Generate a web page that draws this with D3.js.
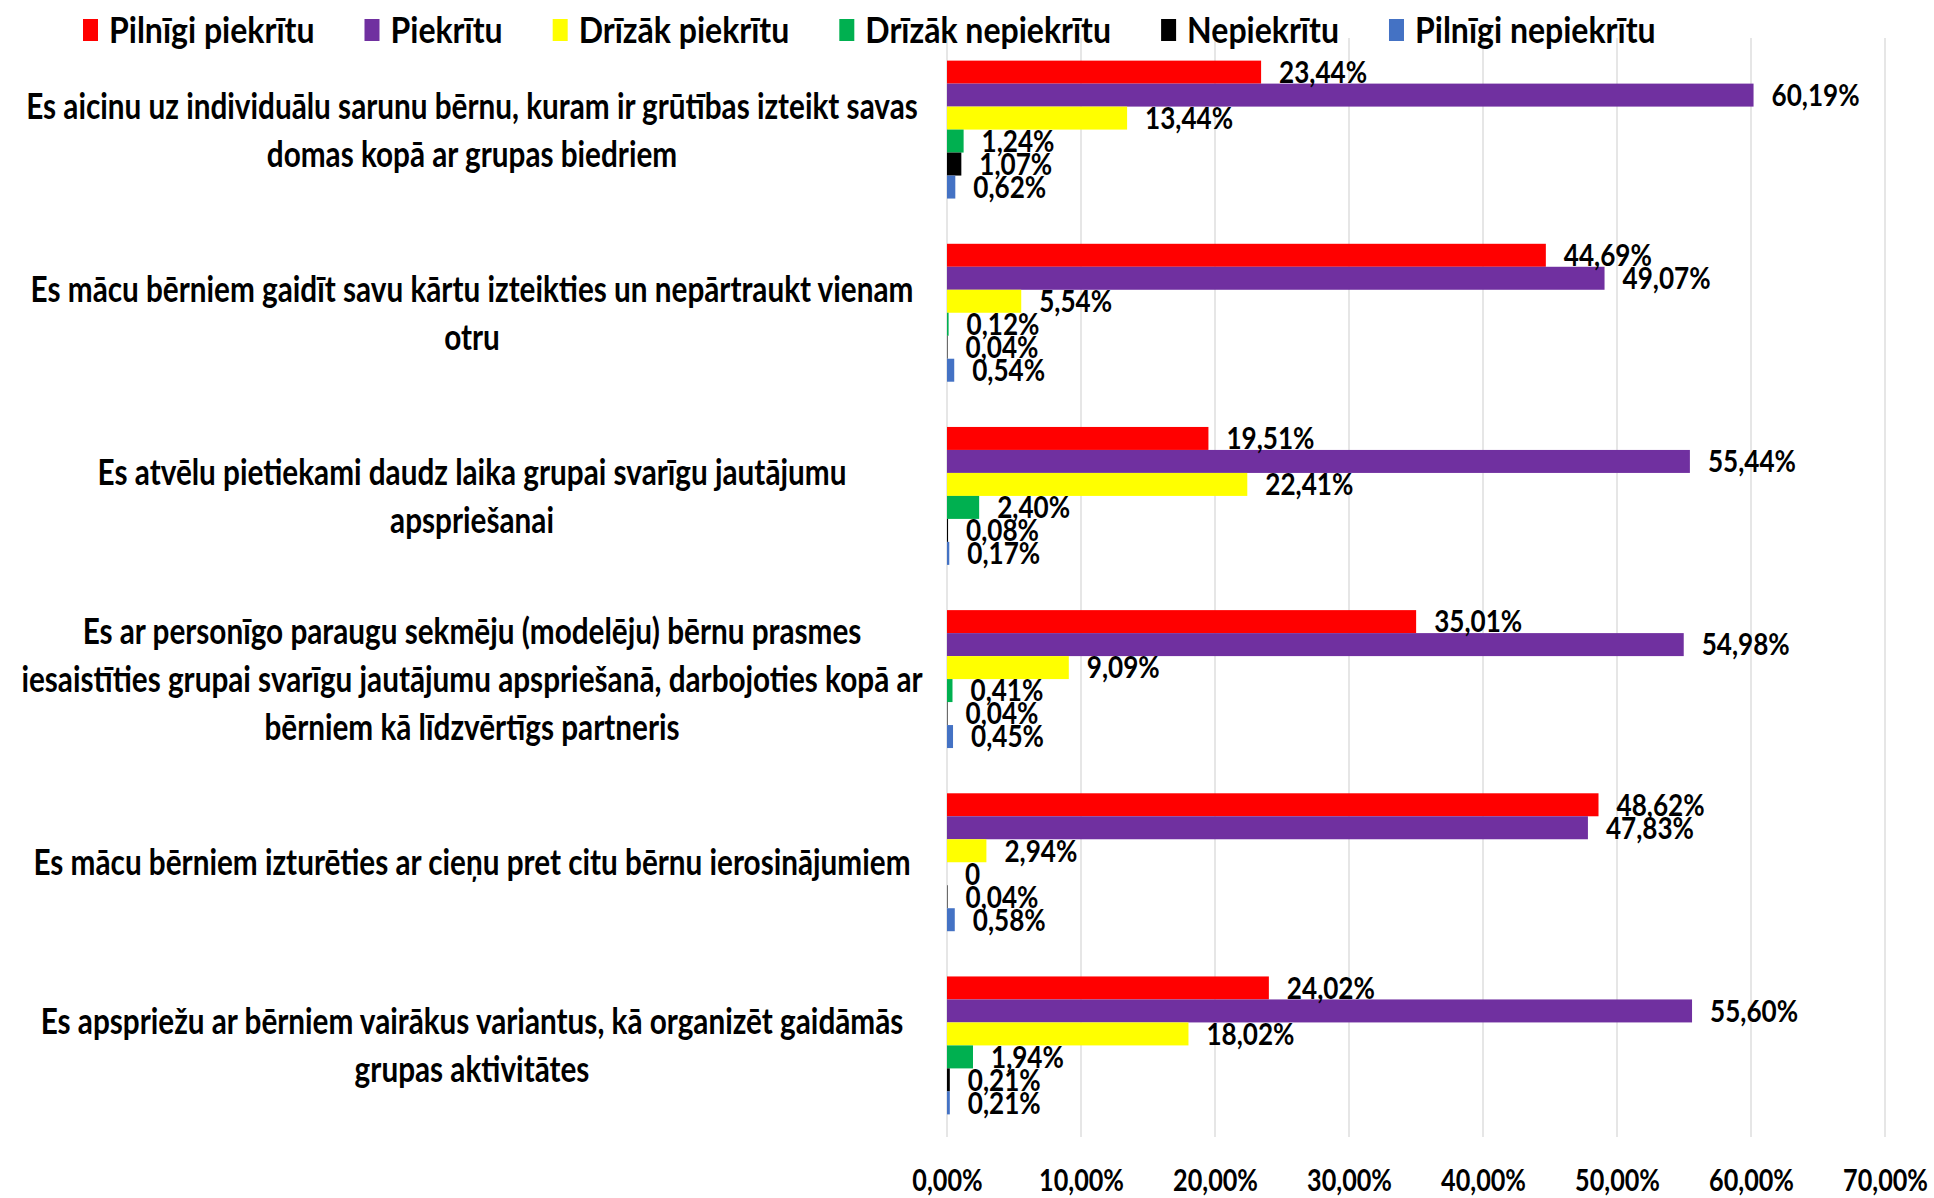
<!DOCTYPE html>
<html lang="lv">
<head>
<meta charset="UTF-8">
<script src="https://cdn.jsdelivr.net/npm/d3@7"></script>
<style>
  body { margin: 0; background: #fff; }
  text { font-family: Lato, "Liberation Sans", sans-serif; font-weight: bold; fill: #000; }
</style>
<title>Chart</title>
</head>
<body>
<div id="chart"></div>
<script>
// categories (line breaks as in the original)
const categories = [
  ["Es aicinu uz individuālu sarunu bērnu, kuram ir grūtības izteikt savas", "domas kopā ar grupas biedriem"],
  ["Es mācu bērniem gaidīt savu kārtu izteikties un nepārtraukt vienam", "otru"],
  ["Es atvēlu pietiekami daudz laika grupai svarīgu jautājumu", "apspriešanai"],
  ["Es ar personīgo paraugu sekmēju (modelēju) bērnu prasmes", "iesaistīties grupai svarīgu jautājumu apspriešanā, darbojoties kopā ar", "bērniem kā līdzvērtīgs partneris"],
  ["Es mācu bērniem izturēties ar cieņu pret citu bērnu ierosinājumiem"],
  ["Es apspriežu ar bērniem vairākus variantus, kā organizēt gaidāmās", "grupas aktivitātes"]
];
const seriesNames = ["Pilnīgi piekrītu", "Piekrītu", "Drīzāk piekrītu", "Drīzāk nepiekrītu", "Nepiekrītu", "Pilnīgi nepiekrītu"];
const seriesColors = ["#FF0000", "#7030A0", "#FFFF00", "#00B050", "#000000", "#4472C4"];
// values in %
const pilnigiPiekritu   = [23.44, 44.69, 19.51, 35.01, 48.62, 24.02];
const piekritu          = [60.19, 49.07, 55.44, 54.98, 47.83, 55.60];
const drizakPiekritu    = [13.44, 5.54, 22.41, 9.09, 2.94, 18.02];
const drizakNepiekritu  = [1.24, 0.12, 2.40, 0.41, 0, 1.94];
const nepiekritu        = [1.07, 0.04, 0.08, 0.04, 0.04, 0.21];
const pilnigiNepiekritu = [0.62, 0.54, 0.17, 0.45, 0.58, 0.21];
const xTicks = [0, 10, 20, 30, 40, 50, 60, 70];

const seriesValues = [pilnigiPiekritu, piekritu, drizakPiekritu, drizakNepiekritu, nepiekritu, pilnigiNepiekritu];

const width = 1934, height = 1198;
const plotLeft = 947, plotRight = 1885, plotTop = 38, plotBottom = 1137;
// horizontal squeeze of the text, per text kind
const sxLabel = 0.87, sxCat = 0.825, sxAxis = 0.84, sxLegend = 0.89;

const pct = v => d3.format(".2f")(v).replace(".", ",") + "%";
const fmt = v => v === 0 ? "0" : pct(v);

const svg = d3.select("#chart").append("svg")
  .attr("width", width).attr("height", height);

const x = d3.scaleLinear().domain([0, 70]).range([plotLeft, plotRight]);
const y0 = d3.scaleBand().domain(d3.range(categories.length))
  .range([plotTop, plotBottom]).paddingInner(0.247).paddingOuter(0.1235);
const y1 = d3.scaleBand().domain(d3.range(seriesNames.length)).range([0, y0.bandwidth()]);

// gridlines
svg.append("g").selectAll("line").data(xTicks).enter().append("line")
  .attr("x1", d => x(d)).attr("x2", d => x(d))
  .attr("y1", plotTop).attr("y2", plotBottom)
  .attr("stroke", "#D9D9D9").attr("stroke-width", 1.3);

// bars
const groups = svg.append("g").selectAll("g").data(categories).enter().append("g")
  .attr("transform", (d, i) => `translate(0,${y0(i)})`);

groups.each(function (c, ci) {
  const g = d3.select(this);
  const rows = seriesValues.map((vals, si) => ({ si, v: vals[ci] }));
  g.selectAll("rect").data(rows).enter().append("rect")
    .attr("x", x(0))
    .attr("y", d => y1(d.si))
    .attr("width", d => x(d.v) - x(0))
    .attr("height", y1.bandwidth())
    .attr("fill", d => seriesColors[d.si]);
  g.selectAll("text").data(rows).enter().append("text")
    .attr("transform", d => `translate(${x(d.v) + 18},${y1(d.si) + y1.bandwidth() / 2}) scale(${sxLabel},1)`)
    .attr("dy", "0.36em")
    .style("font-size", "30px")
    .text(d => fmt(d.v));
});

// category labels
const lineH = 48;
svg.append("g").selectAll("g").data(categories).enter().append("g")
  .each(function (lines, i) {
    const cy = y0(i) + y0.bandwidth() / 2;
    d3.select(this).selectAll("text").data(lines).enter().append("text")
      .attr("transform", (t, j) => `translate(472,${cy + (j - (lines.length - 1) / 2) * lineH}) scale(${sxCat},1)`)
      .attr("text-anchor", "middle")
      .attr("dy", "0.36em")
      .style("font-size", "36px")
      .text(t => t);
  });

// x axis
const xAxis = d3.axisBottom(x).tickValues(xTicks).tickSize(0).tickPadding(33).tickFormat(pct);
const ax = svg.append("g").attr("transform", `translate(0,${plotBottom})`).call(xAxis);
ax.select(".domain").remove();
ax.selectAll("text")
  .attr("transform", `scale(${sxAxis},1)`)
  .style("font-size", "30px")
  .style("font-family", "Lato, 'Liberation Sans', sans-serif")
  .style("font-weight", "bold")
  .attr("fill", "#000");

// legend
const legend = svg.append("g").attr("transform", "translate(83,30)");
let lx = 0;
seriesNames.forEach((name, i) => {
  const item = legend.append("g").attr("transform", `translate(${lx},0)`);
  item.append("rect").attr("x", 0).attr("y", -11).attr("width", 15).attr("height", 22)
    .attr("fill", seriesColors[i]);
  const t = item.append("text")
    .attr("transform", `translate(26,0) scale(${sxLegend},1)`)
    .attr("dy", "0.36em")
    .style("font-size", "36px")
    .text(name);
  lx += 26 + t.node().getComputedTextLength() * sxLegend + 50;
});
</script>
</body>
</html>
